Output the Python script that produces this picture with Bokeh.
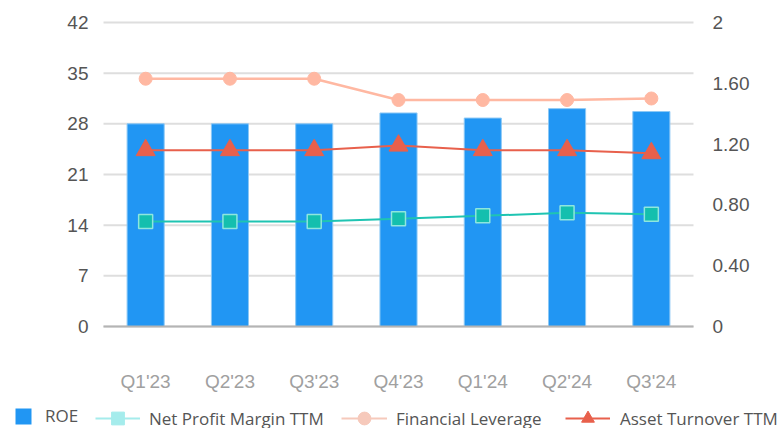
from bokeh.plotting import figure
from bokeh.models import (Range1d, LinearAxis, FixedTicker, Legend, LegendItem,
                          ColumnDataSource, FactorRange)
from bokeh.embed import file_html
from bokeh.resources import INLINE

quarters = ["Q1'23", "Q2'23", "Q3'23", "Q4'23", "Q1'24", "Q2'24", "Q3'24"]
roe = [28.0, 28.0, 28.0, 29.5, 28.8, 30.1, 29.7]
net_profit_margin = [14.5, 14.5, 14.5, 14.9, 15.3, 15.7, 15.5]
financial_leverage = [1.63, 1.63, 1.63, 1.49, 1.49, 1.49, 1.50]
asset_turnover = [1.16, 1.16, 1.16, 1.19, 1.16, 1.16, 1.14]

left_ticks = [0, 7, 14, 21, 28, 35, 42]
right_ticks = [0, 0.4, 0.8, 1.2, 1.6, 2.0]
right_tick_labels = ["0", "0.40", "0.80", "1.20", "1.60", "2"]

src = ColumnDataSource(dict(q=quarters, roe=roe, npm=net_profit_margin,
                            fl=financial_leverage, at=asset_turnover))
n = len(quarters)

# frame covers the whole page width/height (legend lives inside the frame);
# axes are pinned with fixed_location
p = figure(x_range=FactorRange(*quarters, range_padding=1.056, range_padding_units="absolute"),
           y_range=Range1d(-14.09, 45.04),
           width=782, height=428, output_backend="svg", toolbar_location=None,
           min_border_left=14, min_border_right=0, min_border_top=0, min_border_bottom=0)
p.extra_y_ranges = {"right": Range1d(-0.671, 2.1447)}
p.outline_line_color = None
p.background_fill_color = "white"
p.border_fill_color = "white"
p.xgrid.grid_line_color = None
p.ygrid.grid_line_color = None

AX_FONT = "Liberation Sans"

# left axis
ya = p.yaxis[0]
ya.fixed_location = 0
ya.ticker = FixedTicker(ticks=left_ticks)
ya.axis_line_color = None
ya.major_tick_line_color = None
ya.minor_tick_line_color = None
ya.major_label_text_font = AX_FONT
ya.major_label_text_font_size = "19px"
ya.major_label_text_color = "#555555"
ya.major_label_standoff = 9

# right axis
ra = LinearAxis(y_range_name="right", ticker=FixedTicker(ticks=right_ticks))
ra.fixed_location = n
ra.major_label_overrides = dict(zip(right_ticks, right_tick_labels))
ra.axis_line_color = None
ra.major_tick_line_color = None
ra.minor_tick_line_color = None
ra.major_label_text_font = AX_FONT
ra.major_label_text_font_size = "19px"
ra.major_label_text_color = "#555555"
ra.major_label_standoff = 13
p.add_layout(ra, "right")

# x axis
xa = p.xaxis[0]
xa.fixed_location = 0
xa.bounds = (0, n)
xa.axis_line_color = "#b4b4b4"
xa.axis_line_width = 2
xa.major_tick_line_color = None
xa.minor_tick_line_color = None
xa.major_tick_out = 0
xa.major_label_text_font = AX_FONT
xa.major_label_text_font_size = "19px"
xa.major_label_text_color = "#a0a0a0"
xa.major_label_standoff = 44

# horizontal grid lines at the left-axis ticks, spanning the category area
p.segment(x0=0, x1=n, y0=left_ticks, y1=left_ticks, line_color="#dedede",
          line_width=2, level="underlay")

bars = p.vbar(x="q", top="roe", width=0.44, source=src, fill_color="#2196F3",
              line_color="#8cc8f5", line_width=1)

l_fl = p.line(x="q", y="fl", source=src, y_range_name="right", line_color="#ffb8a2", line_width=2.5)
s_fl = p.scatter(x="q", y="fl", source=src, y_range_name="right", marker="circle", size=13,
                 fill_color="#ffb8a2", line_color="#ffb8a2")

l_at = p.line(x="q", y="at", source=src, y_range_name="right", line_color="#e8604c", line_width=2)
s_at = p.scatter(x="q", y="at", source=src, y_range_name="right", marker="triangle", size=19,
                 fill_color="#e8604c", line_color="#e8604c")

l_npm = p.line(x="q", y="npm", source=src, line_color="#1fc4b2", line_width=2)
s_npm = p.scatter(x="q", y="npm", source=src, marker="square", size=14,
                  fill_color="#14bfae", line_color="#8ee6de", line_width=1.5)

# legend proxies with the legend's own colours (a single NaN point: nothing drawn in the plot)
nan = float("nan")
proxy = ColumnDataSource(dict(q=[quarters[0]], v=[nan]))
lg_roe = p.vbar(x="q", top="v", width=0.44, source=proxy, fill_color="#2196F3", line_color=None)
lg_npm_l = p.line(x="q", y="v", source=proxy, line_color="#a5ecec", line_width=2)
lg_npm_s = p.scatter(x="q", y="v", source=proxy, marker="square", fill_color="#a5ecec",
                     line_color="#a5ecec")
lg_fl_l = p.line(x="q", y="v", source=proxy, line_color="#f6c9bb", line_width=2)
lg_fl_s = p.scatter(x="q", y="v", source=proxy, marker="circle", fill_color="#f6c9bb",
                    line_color="#f6c9bb")
lg_at_l = p.line(x="q", y="v", source=proxy, line_color="#e8604c", line_width=2)
lg_at_s = p.scatter(x="q", y="v", source=proxy, marker="triangle", fill_color="#e8604c",
                    line_color="#e8604c")

LEG_FONT = "Open Sans"
def mk_legend(label, renderers, x, y, gw, gh, standoff):
    lg = Legend(items=[LegendItem(label=label, renderers=renderers)],
                location=(x, y), orientation="horizontal",
                glyph_width=gw, glyph_height=gh,
                label_standoff=standoff, padding=0, margin=0, spacing=0,
                border_line_color=None, background_fill_alpha=0,
                label_text_font=LEG_FONT, label_text_font_size="17px",
                label_text_color="#555555", label_height=16)
    p.add_layout(lg, "center")
    return lg

mk_legend("ROE", [lg_roe], -1, 1, 20, 20, 12)
mk_legend("Net Profit Margin TTM", [lg_npm_l, lg_npm_s], 81, -6, 45, 32, 9)
mk_legend("Financial Leverage", [lg_fl_l, lg_fl_s], 327, -6, 46, 32, 9)
mk_legend("Asset Turnover TTM", [lg_at_l, lg_at_s], 551, -6, 45, 32, 10)

open("out.html", "w").write(file_html(p, INLINE))
